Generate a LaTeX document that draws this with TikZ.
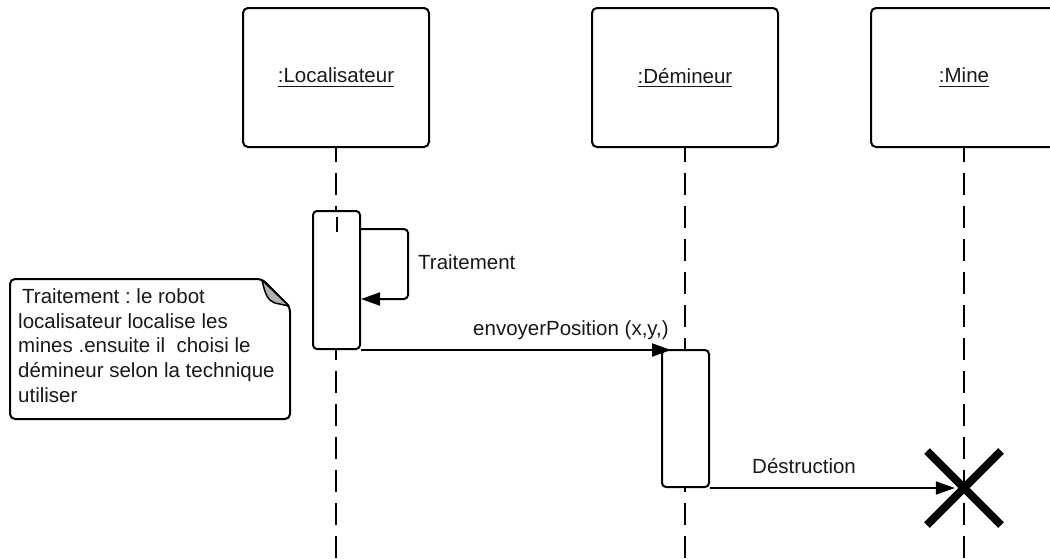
\documentclass[tikz,border=0pt]{standalone}
\usepackage{fontspec}
\setmainfont{Liberation Sans}
\usetikzlibrary{arrows.meta}
\frenchspacing
% underlined object name of a lifeline head
\newcommand\uobj[1]{\vtop{\hbox{#1}\kern2.6pt\hrule height 1.3pt}}
\begin{document}
\begin{tikzpicture}[x=1pt,y=-1pt,
  every node/.style={font=\fontsize{20.5}{24.7}\selectfont, text=black!90},
  objbox/.style={draw, line width=2pt, rounded corners=5pt, minimum width=186pt,
    minimum height=139pt, inner sep=0pt, fill=white},
  actbox/.style={draw, line width=2pt, rounded corners=4pt, minimum width=47pt,
    minimum height=138pt, inner sep=0pt, fill=white},
  lifeline/.style={line width=2pt, dash pattern=on 22pt off 11pt, dash phase=8pt},
  msg/.style={line width=2pt, -{Triangle[length=19pt,width=13pt]}},
  lbl/.style={anchor=base west, inner sep=0pt},
  destroy/.style={line width=8pt},
  notebox/.style={line width=2pt, rounded corners=5pt, fill=white},
]
\useasboundingbox (0,0) rectangle (1050,558);
\clip (0,0) rectangle (1050,558);
\coordinate (bottom) at (0,558);

% object heads
\node[objbox] (loc)  at (336,77.5) {\uobj{:Localisateur}};
\node[objbox] (dem)  at (685,77.5) {\uobj{:Démineur}};
\node[objbox] (mine) at (964,77.5) {\uobj{:Mine}};

% lifelines
\draw[lifeline] (loc.south)  -- (loc.south |- bottom);
\draw[lifeline] (dem.south)  -- (dem.south |- bottom);
\draw[lifeline] (mine.south) -- (mine.south |- bottom);

% activation bars
\node[actbox] (act1) at (336.5,280) {};
\node[actbox, minimum height=137pt] (act2) at (685.5,418.5) {};
\draw[line width=2pt] ([yshift=-7pt]act1.north) -- ([yshift=-22pt]act1.north);

% self message
\coordinate (selfout) at ([yshift=-19pt]act1.north east);
\coordinate (selfin)  at ([yshift=-89pt]act1.north east);
\draw[msg, rounded corners=4pt] (selfout) -- ++(47,0) |- (selfin);
\node[lbl] (selflbl) at (418,269) {Traitement};

% envoyerPosition
\coordinate (in2) at ([xshift=10pt]act2.north west);
\draw[msg] (act1.south east) -- (in2 |- act1.south east);
\node[lbl] (poslbl) at (473,335) {envoyerPosition (x,y,)};

% destruction of the mine
\node[minimum size=18pt, inner sep=0pt] (cross) at (964,488) {};
\draw[destroy] ([shift={(-37pt,-37pt)}]cross.center) -- ([shift={(37pt,37pt)}]cross.center);
\draw[destroy] ([shift={(-37pt,37pt)}]cross.center) -- ([shift={(37pt,-37pt)}]cross.center);
\draw[msg] (act2.south east) -- (act2.south east -| cross.west);
\node[lbl] (dstlbl) at (752,473) {Déstruction};

% note
\draw[notebox] (10,279) -- (262,279) -- (290,307) -- (290,419) -- (10,419) -- cycle;
\draw[line width=1.5pt, fill=black!30, line join=round]
  (262,280) .. controls (265,294) and (268,301) .. (275,303) -- (289,306) -- cycle;
\node[anchor=north west, inner sep=0pt, align=left] (note) at (18,288.3)
  {\hspace*{4pt}Traitement : le robot\\ localisateur localise les\\
   mines .ensuite il\ \ choisi le\\ démineur selon la technique\\ utiliser};
\end{tikzpicture}
\end{document}
